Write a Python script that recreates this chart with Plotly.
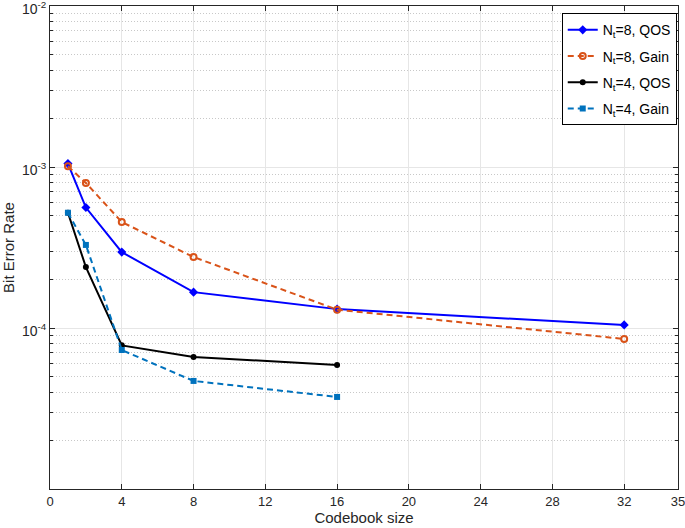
import plotly.graph_objects as go

# codebook sizes
cb_nt8 = [1, 2, 4, 8, 16, 32]
cb_nt4 = [1, 2, 4, 8, 16]

# bit error rates
ber_nt8_qos = [1.05e-3, 5.6e-4, 2.96e-4, 1.67e-4, 1.31e-4, 1.045e-4]
ber_nt8_gain = [1.01e-3, 7.96e-4, 4.55e-4, 2.76e-4, 1.30e-4, 8.55e-5]
ber_nt4_qos = [5.2e-4, 2.39e-4, 7.8e-5, 6.6e-5, 5.9e-5]
ber_nt4_gain = [5.2e-4, 3.28e-4, 7.3e-5, 4.69e-5, 3.73e-5]

x_ticks = [0, 4, 8, 12, 16, 20, 24, 28, 32, 35]
y_ticks = [1e-4, 1e-3, 1e-2]
y_ticktext = ['10<sup>-4</sup>', '10<sup>-3</sup>', '10<sup>-2</sup>']
y_minor = [m * 10.0 ** e for e in (-5, -4, -3) for m in range(2, 10)]

fig = go.Figure()

fig.add_trace(go.Scatter(
    x=cb_nt8, y=ber_nt8_qos, name='N<sub>t</sub>=8, QOS', legendgroup='a',
    mode='lines+markers', line=dict(color='#0000FF', width=2),
    marker=dict(symbol='diamond', size=7, color='#0000FF'),
))
fig.add_trace(go.Scatter(
    x=cb_nt8, y=ber_nt8_gain, name='N<sub>t</sub>=8, Gain', legendgroup='b',
    mode='lines+markers', line=dict(color='#D95319', width=2, dash='6px,4px'),
    marker=dict(symbol='circle-open', size=6, color='#D95319', line=dict(width=2)),
))
fig.add_trace(go.Scatter(
    x=cb_nt4, y=ber_nt4_qos, name='N<sub>t</sub>=4, QOS', legendgroup='c',
    mode='lines+markers', line=dict(color='#000000', width=2),
    marker=dict(symbol='circle', size=6, color='#000000'),
))
fig.add_trace(go.Scatter(
    x=cb_nt4, y=ber_nt4_gain, name='N<sub>t</sub>=4, Gain', legendgroup='d',
    mode='lines+markers', line=dict(color='#0072BD', width=2, dash='6px,4px'),
    marker=dict(symbol='square', size=6, color='#0072BD'),
))

fig.update_layout(
    width=685, height=528,
    margin=dict(l=50, r=7, t=6, b=39),
    paper_bgcolor='white', plot_bgcolor='white',
    font=dict(family='Liberation Sans, Arial, sans-serif', size=13, color='#262626'),
    legend=dict(
        x=0.998, y=0.985, xanchor='right', yanchor='top',
        bgcolor='white', bordercolor='#000000', borderwidth=1,
        font=dict(size=14, color='#000000'),
        traceorder='grouped', tracegroupgap=5,
    ),
    showlegend=True,
)

fig.update_xaxes(
    range=[0, 35], tickvals=x_ticks, automargin=False, ticklabeloverflow='allow',
    showline=True, linecolor='#262626', linewidth=1, mirror='allticks',
    ticks='inside', ticklen=5, tickcolor='#262626',
    showgrid=True, gridcolor='#e6e6e6', gridwidth=1,
    zeroline=False,
    title=dict(text='Codebook size', standoff=3, font=dict(size=15)),
    tickfont=dict(size=13),
)

fig.update_yaxes(
    type='log', range=[-5, -2], tickvals=y_ticks, ticktext=y_ticktext,
    automargin=False, ticklabeloverflow='allow', ticklabelshift=3,
    showline=True, linecolor='#262626', linewidth=1, mirror='allticks',
    ticks='inside', ticklen=5, tickcolor='#262626',
    showgrid=True, gridcolor='#e6e6e6', gridwidth=1,
    minor=dict(tickvals=y_minor, ticks='inside', ticklen=3, tickcolor='#262626',
               showgrid=True, gridcolor='#c8c8c8', griddash='1px,2px', gridwidth=1),
    zeroline=False,
    title=dict(text='Bit Error Rate', standoff=4, font=dict(size=15)),
    tickfont=dict(size=14),
)

# drop the page's default body margin so the figure sits at the window origin
fig.write_html("out.html", config={'displayModeBar': False},
               post_script="document.body.style.margin='0';")
